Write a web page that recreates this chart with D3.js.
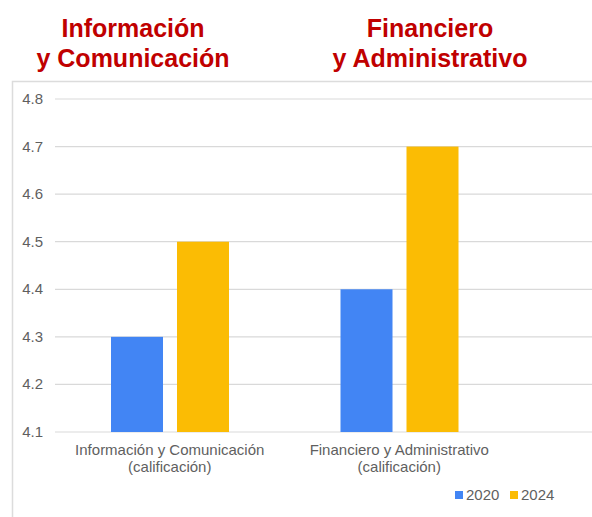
<!DOCTYPE html>
<html>
<head>
<meta charset="utf-8">
<script src="https://cdn.jsdelivr.net/npm/d3@7"></script>
<style>
  body { margin: 0; background: #fff; font-family: "Liberation Sans", Arial, sans-serif; }
</style>
</head>
<body>
<div id="chart"></div>
<script>
// chart data
const categories = ["Información y Comunicación", "Financiero y Administrativo"];
const categoryLines = [["Información y Comunicación", "(calificación)"], ["Financiero y Administrativo", "(calificación)"]];
const seriesNames = ["2020", "2024"];
const values2020 = [4.3, 4.4];
const values2024 = [4.5, 4.7];
const yTicks = [4.1, 4.2, 4.3, 4.4, 4.5, 4.6, 4.7, 4.8];
const titles = [["Información", "y Comunicación"], ["Financiero", "y Administrativo"]];

const svgWidth = 592;
const svgHeight = 517;
const colors = { "2020": "#4285F4", "2024": "#FBBC04" };

const svg = d3.select("#chart")
    .append("svg")
    .attr("width", svgWidth)
    .attr("height", svgHeight);

// chart frame
svg.append("rect")
    .attr("x", 12.5)
    .attr("y", 81.5)
    .attr("width", svgWidth)
    .attr("height", svgHeight)
    .attr("fill", "none")
    .attr("stroke", "#dcdcdc")
    .attr("stroke-width", 1.5);

const x = d3.scaleBand()
    .domain(categories)
    .range([55, 514]);

// bars sit inside each category band
const xInner = d3.scaleBand()
    .domain(seriesNames)
    .range([56, 174])
    .paddingInner(0.212);

const y = d3.scaleLinear()
    .domain([4.1, 4.8])
    .range([432, 99]);

// gridlines
svg.append("g")
    .selectAll("line")
    .data(yTicks)
    .enter()
    .append("line")
    .attr("x1", 55)
    .attr("x2", svgWidth)
    .attr("y1", d => y(d))
    .attr("y2", d => y(d))
    .attr("stroke", "#d9d9d9")
    .attr("stroke-width", 1.2);

// y tick labels
svg.append("g")
    .selectAll("text")
    .data(yTicks)
    .enter()
    .append("text")
    .attr("x", 43)
    .attr("y", d => y(d) + 5)
    .attr("text-anchor", "end")
    .attr("font-size", "15px")
    .attr("fill", "#5f5f5f")
    .text(d => d.toFixed(1));

// bars
const rows = categories.map((c, i) => ({ cat: c, vals: [values2020[i], values2024[i]] }));
const groups = svg.selectAll(".grp")
    .data(rows)
    .enter()
    .append("g")
    .attr("transform", d => `translate(${x(d.cat)},0)`);

groups.selectAll("rect")
    .data(d => d.vals.map((v, j) => ({ key: seriesNames[j], v: v })))
    .enter()
    .append("rect")
    .attr("x", d => xInner(d.key))
    .attr("width", xInner.bandwidth())
    .attr("y", d => y(d.v))
    .attr("height", d => y(4.1) - y(d.v))
    .attr("fill", d => colors[d.key]);

// x labels
categoryLines.forEach((lines, i) => {
    const cx = x(categories[i]) + x.bandwidth() / 2;
    lines.forEach((t, k) => {
        svg.append("text")
            .attr("x", cx)
            .attr("y", 455 + k * 17)
            .attr("text-anchor", "middle")
            .attr("font-size", "15px")
            .attr("fill", "#5f5f5f")
            .text(t);
    });
});

// titles
const titleCenters = [133, 430];
titles.forEach((lines, i) => {
    lines.forEach((t, k) => {
        svg.append("text")
            .attr("x", titleCenters[i])
            .attr("y", 37 + k * 30)
            .attr("text-anchor", "middle")
            .attr("font-size", "25px")
            .attr("font-weight", "bold")
            .attr("fill", "#C00000")
            .text(t);
    });
});

// legend
const legendX = [455, 510];
seriesNames.forEach((s, i) => {
    svg.append("rect")
        .attr("x", legendX[i])
        .attr("y", 491)
        .attr("width", 8)
        .attr("height", 8)
        .attr("fill", colors[s]);
    svg.append("text")
        .attr("x", legendX[i] + 11)
        .attr("y", 500)
        .attr("font-size", "15px")
        .attr("fill", "#5f5f5f")
        .text(s);
});
</script>
</body>
</html>
